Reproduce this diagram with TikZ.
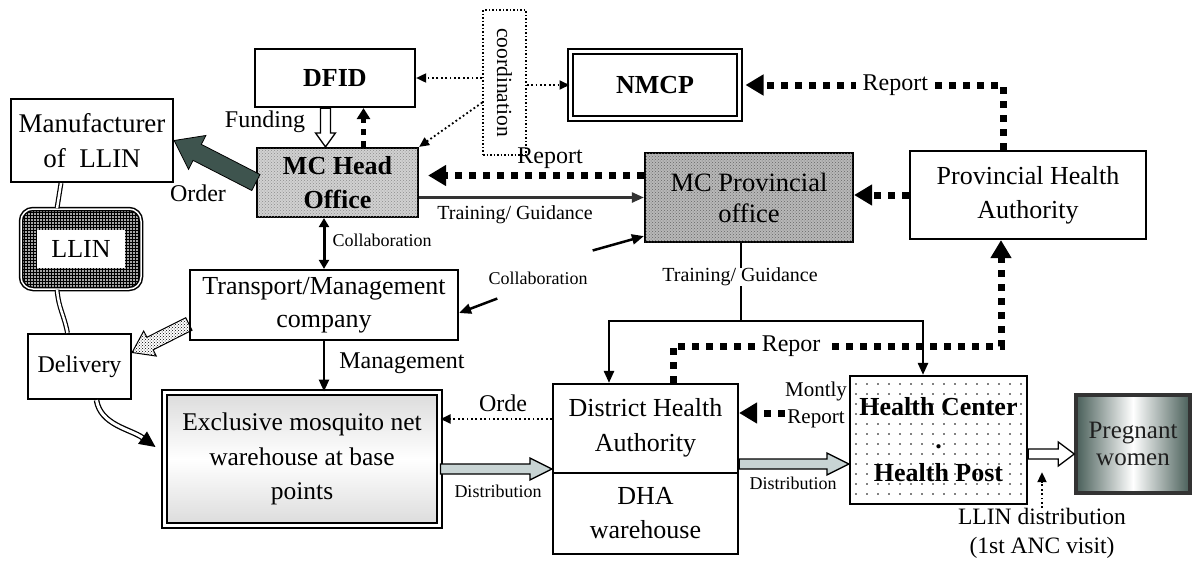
\documentclass[tikz,border=0pt]{standalone}
\usepackage{fontspec}
\setmainfont{Liberation Serif}
\usetikzlibrary{arrows.meta,calc,patterns}
\newcommand\szL{\fontsize{26}{33}\selectfont}
\newcommand\szM{\fontsize{24}{29}\selectfont}
\newcommand\szS{\fontsize{18}{22}\selectfont}
\newcommand\szT{\fontsize{20}{24}\selectfont}
\definecolor{slate}{RGB}{62,84,78}
\definecolor{distfill}{RGB}{200,212,212}
\definecolor{pwdark}{RGB}{72,94,88}
% block arrow: options, start, end, half shaft, half head, head length
\newcommand\blkarrow[6]{%
  \coordinate (baS) at (#2);
  \coordinate (baE) at (#3);
  \coordinate (baB) at ($(baE)!#6!(baS)$);
  \draw[#1] ($(baS)!#4!90:(baE)$) -- ($(baB)!#4!-90:(baS)$) -- ($(baB)!#5!-90:(baS)$)
     -- (baE) -- ($(baB)!#5!90:(baS)$) -- ($(baB)!#4!90:(baS)$) -- ($(baS)!#4!-90:(baE)$) -- cycle;
}
\begin{document}
\begin{tikzpicture}[x=1pt,y=-1pt,
  nbox/.style={draw, line width=2.2pt, inner sep=0pt, align=center, font=\szL},
  dblbox/.style={nbox, double, double distance=3pt, line width=2pt},
  texbox/.style 2 args={nbox, fill=black!#1, postaction={pattern=crosshatch dots, pattern color=black!#2}},
  lbl/.style={inner sep=0pt, align=center, font=\szM},
  slbl/.style={inner sep=0pt, align=center, font=\szS},
  tlbl/.style={inner sep=0pt, align=center, font=\szT},
  rep/.style={line width=7pt, dash pattern=on 7pt off 7pt, -{Triangle[length=18pt,width=20pt]}},
  fdot/.style={line width=1.8pt, dash pattern=on 1.8pt off 2.6pt, -{Triangle[length=10pt,width=9pt]}},
  solidarr/.style={line width=2.5pt, -{Triangle[length=12pt,width=10pt]}},
  dbline/.style={double, double distance=2.5pt, line width=1.2pt},
]
\useasboundingbox (0,0) rectangle (1192,563);

% ---------- nodes ----------
\node[nbox, minimum width=162pt, minimum height=83pt, font=\fontsize{27}{35}\selectfont] (mf) at (92,140.5) {Manufacturer\\of\ \ LLIN};
\node[draw, line width=1.5pt, double, double distance=1.5pt, rounded corners=12pt,
      minimum width=120pt, minimum height=80pt, preaction={fill=black!35},
      pattern=grid, pattern color=black] (llin) at (81,249) {};
\node[fill=white, minimum width=88pt, minimum height=38pt, inner sep=0pt, font=\szL] (llint) at (llin.center) {LLIN};
\node[nbox, minimum width=103pt, minimum height=65pt, font=\fontsize{24}{29}\selectfont] (del) at (79.5,366.5) {Delivery};

\node[nbox, minimum width=160pt, minimum height=58pt, font=\bfseries\szL] (dfid) at (335,78) {DFID};
\node[draw, line width=1.5pt, dash pattern=on 1.5pt off 2pt, minimum width=43pt, minimum height=145pt, inner sep=0pt] (coord) at (504.5,82.5) {};
\node[rotate=-90, inner sep=0pt, font=\fontsize{21.5}{24}\selectfont] (coordt) at (coord.center) {coordination};
\node[dblbox, minimum width=169pt, minimum height=67pt, font=\bfseries\szL] (nmcp) at (655,85) {NMCP};

\node[texbox={18}{45}, minimum width=161pt, minimum height=69pt, font=\bfseries\fontsize{26}{34}\selectfont] (mch) at (337.5,182.5) {MC Head\\Office};
\node[texbox={28}{60}, minimum width=208pt, minimum height=89pt, font=\fontsize{26.5}{31}\selectfont] (mcp) at (749,197.5) {MC Provincial\\office};
\node[nbox, minimum width=236pt, minimum height=88pt, font=\fontsize{26}{34}\selectfont] (pha) at (1028,195) {Provincial Health\\Authority};

\node[nbox, minimum width=268pt, minimum height=70pt] (tr) at (324,305) {Transport/Management\\company};
\node[dblbox, minimum width=275pt, minimum height=133pt, top color=gray!28, bottom color=gray!28, middle color=white,
      font=\fontsize{25.5}{34.5}\selectfont] (wh) at (302,459) {Exclusive mosquito net\\warehouse at base\\points};

\node[nbox, minimum width=185pt, minimum height=170pt] (dha) at (645.5,469) {};
\draw[line width=2.2pt] ([yshift=-4pt]dha.west) -- ([yshift=-4pt]dha.east);
\node[lbl, font=\fontsize{26}{35}\selectfont] (dhat) at (645.5,428) {District Health\\Authority};
\node[lbl, font=\fontsize{26}{34}\selectfont] (dhab) at (645.5,513) {DHA\\warehouse};

\node[nbox, fill=white, minimum width=177pt, minimum height=128pt] (hc) at (938.5,440) {};
\foreach \i in {0,...,15} \foreach \j in {0,...,11} \fill (856+\i*11, 384+\j*10) circle (0.9pt);
\node[lbl, font=\bfseries\fontsize{26}{33}\selectfont] (hct) at (hc.center) {Health Center\\.\\Health Post};

\node[draw=black!80, line width=3.5pt, minimum width=114pt, minimum height=98pt, inner sep=0pt,
      left color=pwdark, right color=pwdark, middle color=white, align=center,
      font=\fontsize{25}{27}\selectfont, text=black!88] (pw) at (1133,444) {Pregnant\\women};

% ---------- labels ----------
\node[lbl] (fund) at (265,122) {Funding};
\node[lbl] (order) at (198,193) {Order};
\node[slbl] (col1) at (382,240) {Collaboration};
\node[lbl] (rep1) at (550,158) {Report};
\node[tlbl] (tg1) at (515,215) {Training/ Guidance};
\node[slbl] (col2) at (538,278) {Collaboration};
\node[tlbl] (tg2) at (740,277) {Training/ Guidance};
\node[lbl] (mgmt) at (402,363) {Management};
\node[lbl] (orde) at (503,403) {Orde};
\node[slbl] (dist1) at (498,491) {Distribution};
\node[slbl] (dist2) at (793,483) {Distribution};
\node[inner sep=0pt, align=center, font=\fontsize{21}{27}\selectfont] (ml) at (816,405) {Montly\\Report};
\node[lbl, font=\fontsize{23.5}{29}\selectfont] (lld) at (1042,533.5) {LLIN distribution\\(1st ANC visit)};

% ---------- connectors ----------
% Order (big arrow)
\blkarrow{fill=slate, draw=black, line width=0.8pt}{mch.west}{mf.east}{9pt}{19pt}{26pt}
% manufacturer - LLIN - delivery
\draw[dbline] ([xshift=-31pt]mf.south) -- ([xshift=-24pt]llin.north);
\draw[dbline] ([xshift=-24pt]llin.south) .. controls +(2,20) and +(-4,-20) .. ([xshift=-12pt]del.north);
% transport -> delivery (patterned)
\blkarrow{pattern=crosshatch dots, draw=black, line width=1pt}{[yshift=-19pt]tr.west}{[yshift=14pt]del.east}{7pt}{14pt}{20pt}
% delivery -> warehouse (curved)
\draw[double=white, double distance=3pt, line width=1.3pt, -{Triangle[length=16pt,width=15pt]}]
  ([xshift=17pt]del.south) .. controls +(4,25) and +(-25,-18) .. ($(wh.west)+(-8,-12)$);

% Funding
\coordinate (fundB) at ([xshift=-12pt]mch.north);
\blkarrow{fill=white, draw=black, line width=1.3pt}{fundB |- dfid.south}{fundB}{5pt}{10pt}{14pt}
% MC head -> DFID dashed
\coordinate (upB) at ([xshift=26pt]mch.north);
\draw[line width=4.5pt, dash pattern=on 6pt off 6pt, -{Triangle[length=11pt,width=13pt]}] (upB) -- (upB |- dfid.south);

% coordination
\draw[fdot] (coord.west |- dfid.east) -- (dfid.east);
\draw[fdot] (coord.east |- nmcp.west) -- (nmcp.west);
\coordinate (cdl) at ([yshift=-20pt]coord.west);
\draw[fdot] (cdl) -- (mch.north east);

% collaboration head <-> transport
\draw[line width=3pt, {Triangle[length=9pt,width=10pt]}-{Triangle[length=9pt,width=10pt]}] (tr.north |- mch.south) -- (tr.north);

% report MC prov -> MC head
\coordinate (r1s) at ([yshift=22pt]mcp.west);
\draw[rep, shorten >=9pt] (r1s) -- (r1s -| mch.east);
% training head -> prov
\draw[solidarr, draw=black!80] (mch.east |- mcp.west) -- (mcp.west);

% PHA -> NMCP
\coordinate (phaT) at ([xshift=-25pt]pha.north);
\draw[rep, shorten >=5pt] (phaT) |- node[pos=0.705, fill=white, inner xsep=7pt, inner ysep=2pt, font=\szM] (rep2) {Report} (nmcp.east);
% PHA -> MC prov
\draw[rep] (pha.west) -- (pha.west -| mcp.east);

% collaboration 2
\draw[solidarr] ($(col2.north east)+(5,-21)$) -- ([yshift=7pt]mcp.south west);
\draw[solidarr] ($(col2.south west)+(9,14)$) -- ([yshift=-8pt]tr.east);

% training 2
\coordinate (tgA) at ([xshift=-8pt]mcp.south);
\coordinate (tgJ) at (741,321);
\coordinate (dhaIn) at ([xshift=-36.5pt]dha.north);
\coordinate (hcIn) at ([xshift=-15.5pt]hc.north);
\draw[line width=2.5pt] (tgA) -- (tgA |- tg2.north);
\draw[line width=2.5pt] (tg2.south -| tgJ) -- (tgJ);
\draw[solidarr] (tgJ) -| (dhaIn);
\draw[solidarr] (tgJ) -| (hcIn);

% Repor: DHA -> PHA
\coordinate (rpA) at ([xshift=27.5pt]dha.north);
\coordinate (rpB) at ([xshift=-27pt]pha.south);
\coordinate (rpC) at (1001,346);
\draw[rep] (rpA) |- node[pos=0.68, fill=white, inner xsep=7pt, inner ysep=2pt, font=\szM] (repor) {Repor} (rpC) -- (rpB);

% Montly report HC -> DHA
\draw[rep] ([yshift=-8pt]ml.west) -- ([yshift=-8pt]ml.west -| dha.east);

% Orde
\coordinate (oS) at ([yshift=50pt]dha.west);
\draw[fdot] (oS) -- (oS -| wh.east);

% Management
\draw[solidarr] (tr.south) -- (tr.south |- wh.north);

% Distribution arrows
\blkarrow{fill=distfill, draw=black, line width=1.3pt}{dha.west -| wh.east}{dha.west}{5pt}{11pt}{22pt}
\coordinate (d2s) at ([yshift=5pt]dha.east);
\blkarrow{fill=distfill, draw=black, line width=1.3pt}{d2s}{d2s -| hc.west}{5pt}{11pt}{22pt}
% HC -> pregnant women
\coordinate (pwS) at ([yshift=-14pt]hc.east);
\blkarrow{fill=white, draw=black, line width=1.3pt}{pwS}{pwS -| pw.west}{5pt}{12pt}{16pt}
% LLIN distribution
\coordinate (lldT) at ([yshift=36pt]lld.north);
\draw[fdot] (lld.north) -- (lldT);
\end{tikzpicture}
\end{document}
